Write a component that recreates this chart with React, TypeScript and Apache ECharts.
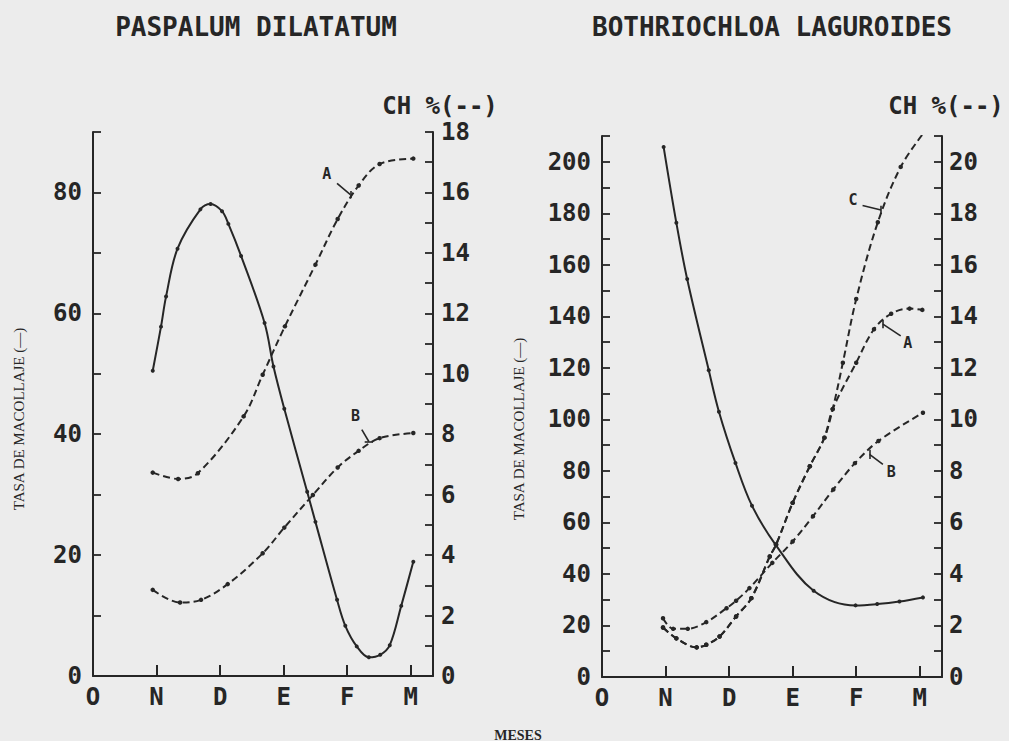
import React, { useEffect, useRef } from 'react';
import * as echarts from 'echarts';

// ---- labels ----
const monthLabels = ['O', 'N', 'D', 'E', 'F', 'M'];
const titleLeft = 'PASPALUM DILATATUM';
const titleRight = 'BOTHRIOCHLOA LAGUROIDES';
const chLabel = 'CH %(--)';
const yName = 'TASA DE MACOLLAJE (—)';
const xName = 'MESES';

// ---- Paspalum dilatatum: [month, value] ----
const pdTasa: [number, number][] = [
  [0.94, 50.5], [1.07, 57.8], [1.15, 62.8], [1.33, 70.7], [1.69, 77.2], [1.85, 78.1],
  [2.03, 76.9], [2.13, 74.8], [2.33, 69.5], [2.7, 58.4], [2.84, 51.2], [3.01, 44.2],
  [3.37, 30.5], [3.5, 25.5], [3.84, 12.6], [3.97, 8.3], [4.15, 4.9], [4.34, 3.1],
  [4.52, 3.5], [4.67, 5.1], [4.85, 11.6], [5.04, 18.9],
];
const pdA: [number, number][] = [
  [0.94, 6.73], [1.34, 6.52], [1.65, 6.71], [2.37, 8.59], [2.67, 9.97], [3.02, 11.57],
  [3.5, 13.61], [3.85, 15.12], [4.18, 16.23], [4.51, 16.94], [5.04, 17.12],
];
const pdB: [number, number][] = [
  [0.94, 2.85], [1.37, 2.43], [1.7, 2.52], [2.12, 3.04], [2.67, 4.06], [3.01, 4.91],
  [3.46, 5.99], [3.85, 6.9], [4.18, 7.45], [4.51, 7.87], [5.04, 8.04],
];

// ---- Bothriochloa laguroides: [month, value] ----
const blTasa: [number, number][] = [
  [0.97, 205.7], [1.17, 176.3], [1.34, 154.5], [1.68, 119.1], [1.84, 103.0], [2.1, 83.1],
  [2.36, 66.5], [2.73, 51.4], [3.33, 33.5], [3.99, 27.8], [4.33, 28.3], [4.68, 29.3],
  [5.05, 30.9],
];
const blC: [number, number][] = [
  [0.96, 1.92], [1.17, 1.5], [1.49, 1.15], [1.64, 1.25], [1.85, 1.57], [2.11, 2.35],
  [2.35, 3.06], [2.64, 4.68], [2.74, 5.14], [3.0, 6.76], [3.27, 8.18], [3.5, 9.29],
  [3.63, 10.4], [3.79, 12.2], [4.0, 14.67], [4.34, 17.65], [4.7, 19.8], [5.04, 21.05],
];
const blA: [number, number][] = [
  [0.96, 1.92], [1.17, 1.5], [1.49, 1.15], [1.64, 1.25], [1.85, 1.57], [2.11, 2.35],
  [2.35, 3.06], [2.64, 4.68], [2.74, 5.14], [3.0, 6.76], [3.27, 8.18], [3.5, 9.29],
  [3.63, 10.4], [4.0, 12.2], [4.28, 13.5], [4.55, 14.1], [4.84, 14.3], [5.04, 14.25],
];
const blB: [number, number][] = [
  [0.96, 2.28], [1.12, 1.87], [1.35, 1.87], [1.64, 2.13], [1.96, 2.67], [2.11, 2.96],
  [2.32, 3.45], [2.68, 4.43], [3.0, 5.26], [3.32, 6.24], [3.64, 7.28], [3.98, 8.3],
  [4.35, 9.16], [5.05, 10.26],
];

// ---- annotation anchors (data coords): letter, leader start, leader end, bar centre, bar orientation ----
type Note = { t: string; at: [number, number]; from: [number, number]; to: [number, number]; bar: [number, number]; barV: boolean };
const pdNotesA: Note[] = [{ t: 'A', at: [3.68, 16.6], from: [3.84, 16.3], to: [4.05, 15.93], bar: [4.05, 15.93], barV: true }];
const pdNotesB: Note[] = [{ t: 'B', at: [4.13, 8.6], from: [4.23, 8.15], to: [4.34, 7.76], bar: [4.34, 7.76], barV: false }];
const blNotesC: Note[] = [{ t: 'C', at: [3.95, 18.5], from: [4.1, 18.3], to: [4.39, 18.13], bar: [4.39, 18.13], barV: true }];
const blNotesA: Note[] = [{ t: 'A', at: [4.81, 12.95], from: [4.42, 13.7], to: [4.7, 13.24], bar: [4.42, 13.7], barV: true }];
const blNotesB: Note[] = [{ t: 'B', at: [4.55, 7.95], from: [4.21, 8.64], to: [4.42, 8.25], bar: [4.21, 8.64], barV: true }];

const ink = '#262626';
const mono = 'DejaVu Sans Mono';
const serif = 'Liberation Serif';

export default function App() {
  const ref = useRef<HTMLDivElement>(null);

  useEffect(() => {
    if (!ref.current) return;
    const chart = echarts.init(ref.current, null, { renderer: 'svg' });

    const lineStyle = { color: ink, width: 2 };

    const xAx = (gridIndex: number) => ({
      type: 'value',
      gridIndex,
      min: 0,
      max: 5.35,
      interval: 1,
      axisLine: { show: true, onZero: false, lineStyle },
      axisTick: { show: true, inside: true, length: 11, lineStyle },
      axisLabel: {
        fontFamily: mono,
        fontWeight: 'bold',
        fontSize: 24,
        color: ink,
        margin: 9,
        formatter: (v: number) => (Number.isInteger(v) ? monthLabels[v] ?? '' : ''),
      },
      splitLine: { show: false },
    });

    const yAx = (gridIndex: number, position: string, max: number, step: number, margin: number) => ({
      type: 'value',
      gridIndex,
      position,
      min: 0,
      max,
      interval: step / 2,
      axisLine: { show: true, onZero: false, lineStyle },
      axisTick: { show: true, inside: true, length: 8, lineStyle: { color: ink, width: 1.8 } },
      axisLabel: {
        fontFamily: mono,
        fontWeight: 'bold',
        fontSize: 24,
        color: ink,
        margin,
        formatter: (v: number) => {
          const r = Math.round(v);
          return r % step === 0 ? String(r) : '';
        },
      },
      splitLine: { show: false },
    });

    const notesFor = (notes: Note[], dx: number, dy: number) => ({
      silent: true,
      symbol: ['none', 'none'],
      label: { show: false },
      lineStyle: { type: 'solid', color: ink, width: 1.6 },
      data: notes.flatMap((n) => [
        [{ coord: n.from }, { coord: n.to }],
        n.barV
          ? [{ coord: [n.bar[0], n.bar[1] - dy] }, { coord: [n.bar[0], n.bar[1] + dy] }]
          : [{ coord: [n.bar[0] - dx, n.bar[1]] }, { coord: [n.bar[0] + dx, n.bar[1]] }],
      ]),
    });
    const lettersFor = (notes: Note[]) => ({
      silent: true,
      symbol: 'circle',
      symbolSize: 0,
      label: { show: true, fontFamily: mono, fontWeight: 'bold', fontSize: 15, color: ink },
      data: notes.map((n) => ({ coord: n.at, label: { formatter: n.t } })),
    });

    const solid = (xi: number, yi: number, data: [number, number][]) => ({
      type: 'line',
      xAxisIndex: xi,
      yAxisIndex: yi,
      data,
      smooth: 0.35,
      symbol: 'circle',
      symbolSize: 4,
      lineStyle: { color: ink, width: 2 },
      itemStyle: { color: ink },
    });
    const dashed = (xi: number, yi: number, data: [number, number][], notes: Note[], dx: number, dy: number) => ({
      type: 'line',
      xAxisIndex: xi,
      yAxisIndex: yi,
      data,
      smooth: 0.35,
      symbol: 'circle',
      symbolSize: 4.5,
      lineStyle: { color: ink, width: 2, type: [7, 4] },
      itemStyle: { color: ink },
      markLine: notesFor(notes, dx, dy),
      markPoint: lettersFor(notes),
    });

    const option = {
      animation: false,
      backgroundColor: '#ececec',
      grid: [
        { left: 93, top: 132, width: 340, height: 544 },
        { left: 602, top: 136, width: 340, height: 541 },
      ],
      xAxis: [xAx(0), xAx(1)],
      yAxis: [
        yAx(0, 'left', 90, 20, 11),
        yAx(0, 'right', 18, 2, 8),
        yAx(1, 'left', 210, 20, 11),
        yAx(1, 'right', 21, 2, 7),
      ],
      series: [
        solid(0, 0, pdTasa),
        dashed(0, 1, pdA, pdNotesA, 0.065, 0.12),
        dashed(0, 1, pdB, pdNotesB, 0.065, 0.12),
        solid(1, 2, blTasa),
        dashed(1, 3, blC, blNotesC, 0.065, 0.16),
        dashed(1, 3, blA, blNotesA, 0.065, 0.16),
        dashed(1, 3, blB, blNotesB, 0.065, 0.18),
      ],
      graphic: [
        { type: 'text', x: 256, y: 27, style: { text: titleLeft, font: `bold 26px "${mono}"`, fill: ink, align: 'center', verticalAlign: 'middle' } },
        { type: 'text', x: 772, y: 27, style: { text: titleRight, font: `bold 26px "${mono}"`, fill: ink, align: 'center', verticalAlign: 'middle' } },
        { type: 'text', x: 440, y: 106, style: { text: chLabel, font: `bold 24px "${mono}"`, fill: ink, align: 'center', verticalAlign: 'middle' } },
        { type: 'text', x: 946, y: 106, style: { text: chLabel, font: `bold 24px "${mono}"`, fill: ink, align: 'center', verticalAlign: 'middle' } },
        { type: 'text', x: 19, y: 419, rotation: Math.PI / 2, style: { text: yName, font: `15px "${serif}"`, fill: ink, align: 'center', verticalAlign: 'middle' } },
        { type: 'text', x: 519, y: 429, rotation: Math.PI / 2, style: { text: yName, font: `15px "${serif}"`, fill: ink, align: 'center', verticalAlign: 'middle' } },
        { type: 'text', x: 518, y: 735, style: { text: xName, font: `bold 14px "${serif}"`, fill: ink, align: 'center', verticalAlign: 'middle' } },
      ],
    };

    chart.setOption(option as any);
    return () => chart.dispose();
  }, []);

  return (
    <div
      ref={ref}
      style={{ position: 'absolute', left: 0, top: 0, width: 1009, height: 741, background: '#ececec' }}
    />
  );
}
